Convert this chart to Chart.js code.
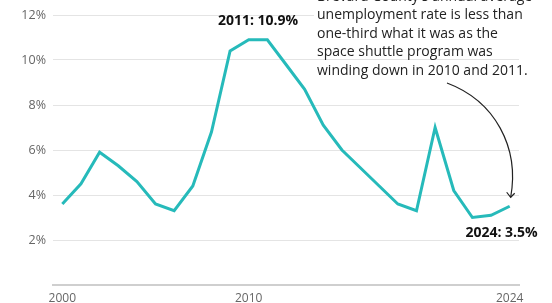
<!DOCTYPE html>
<html>
<head>
<meta charset="utf-8">
<script src="https://cdn.jsdelivr.net/npm/chart.js@4"></script>
<style>
  html, body { margin: 0; padding: 0; background: #fff; }
  #wrap { width: 552px; height: 303px; position: relative; }
</style>
</head>
<body>
<div id="wrap"><canvas id="c" width="552" height="303"></canvas></div>
<script>
const years = [2000,2001,2002,2003,2004,2005,2006,2007,2008,2009,2010,2011,2012,2013,2014,2015,2016,2017,2018,2019,2020,2021,2022,2023,2024];
const rates = [3.6,4.5,5.9,5.3,4.6,3.6,3.3,4.4,6.8,10.4,10.9,10.9,9.8,8.7,7.1,6.0,5.2,4.4,3.6,3.3,7.0,4.2,3.0,3.1,3.5];
const xTickYears = [2000, 2010, 2024];
const yTickValues = [0, 2, 4, 6, 8, 10, 12];
const noteLines = [
  "Brevard County's annual average",
  "unemployment rate is less than",
  "one-third what it was as the",
  "space shuttle program was",
  "winding down in 2010 and 2011."
];
const peakLabel = "2011: 10.9%";
const lastLabel = "2024: 3.5%";

const FONT = "'Open Sans', sans-serif";

const annotations = {
  id: 'annotations',
  afterDraw(chart) {
    const ctx = chart.ctx;
    const xs = chart.scales.x, ys = chart.scales.y;
    ctx.save();
    ctx.fillStyle = '#fff';
    ctx.fillRect(314, 0, 238, 58);
    ctx.fillStyle = '#222';
    ctx.font = '14px ' + FONT;
    ctx.textAlign = 'left';
    ctx.textBaseline = 'middle';
    noteLines.forEach((t, i) => ctx.fillText(t, 317, -3 + i * 18.4));
    ctx.font = 'bold 14px ' + FONT;
    ctx.fillStyle = '#111';
    ctx.textAlign = 'center';
    ctx.fillText(peakLabel, xs.getPixelForValue(2010.5), ys.getPixelForValue(11.72));
    ctx.textAlign = 'right';
    ctx.fillText(lastLabel, xs.getPixelForValue(2025.5), ys.getPixelForValue(2.3));
    const ex = xs.getPixelForValue(2024) + 1, ey = ys.getPixelForValue(3.9);
    const sx = 447, sy = 83;
    ctx.strokeStyle = '#222';
    ctx.lineWidth = 1.2;
    ctx.beginPath();
    ctx.moveTo(sx, sy);
    ctx.bezierCurveTo(sx + 48, sy + 18, ex + 9, ey - 50, ex, ey);
    ctx.stroke();
    ctx.beginPath();
    ctx.moveTo(ex - 4, ey - 5);
    ctx.lineTo(ex, ey);
    ctx.lineTo(ex + 4, ey - 4);
    ctx.stroke();
    ctx.restore();
  }
};

new Chart(document.getElementById('c'), {
  type: 'line',
  data: {
    datasets: [{
      data: years.map((y, i) => ({ x: y, y: rates[i] })),
      borderColor: '#26baba',
      borderWidth: 3,
      pointRadius: 0,
      tension: 0,
      fill: false,
      borderJoinStyle: 'miter'
    }]
  },
  options: {
    responsive: false,
    animation: false,
    layout: { padding: { top: 15, right: 33, bottom: 0, left: 0 } },
    plugins: { legend: { display: false }, tooltip: { enabled: false } },
    scales: {
      x: {
        type: 'linear',
        min: 1999.5,
        max: 2024.5,
        afterBuildTicks(axis) { axis.ticks = xTickYears.map(v => ({ value: v })); },
        afterFit(axis) { axis.height = 18; },
        grid: { display: false, drawTicks: false },
        border: { display: true, color: '#cfcfcf', width: 2 },
        ticks: {
          padding: 6,
          maxRotation: 0,
          autoSkip: false,
          color: '#666',
          font: { family: FONT, size: 12 },
          callback: v => String(v)
        }
      },
      y: {
        min: 0,
        max: 12,
        afterBuildTicks(axis) { axis.ticks = yTickValues.map(v => ({ value: v })); },
        afterFit(axis) { axis.width = 53; },
        border: { display: false },
        grid: {
          drawTicks: false,
          color: ctx => ctx.tick && ctx.tick.value === 0 ? 'rgba(0,0,0,0)' : '#e4e4e4',
          lineWidth: 1
        },
        ticks: {
          padding: 7,
          color: '#666',
          font: { family: FONT, size: 12.5 },
          callback: v => v === 0 ? '' : v + '%'
        }
      }
    }
  },
  plugins: [annotations]
});
</script>
</body>
</html>
